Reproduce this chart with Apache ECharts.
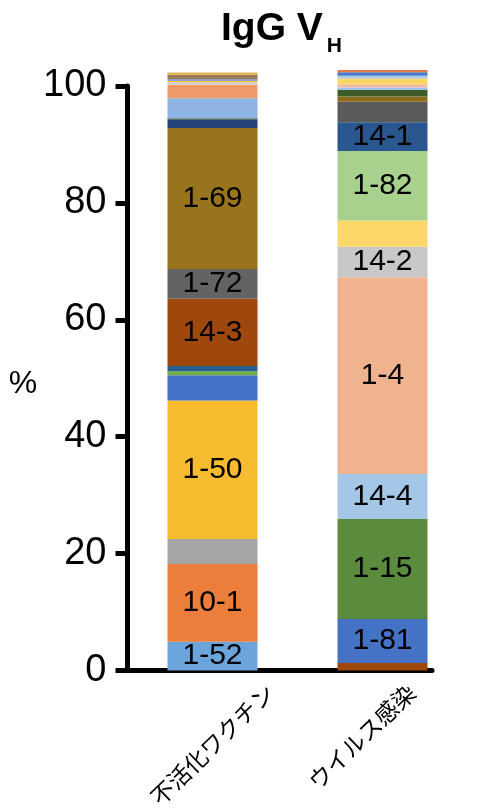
<!DOCTYPE html>
<html>
<head>
<meta charset="utf-8">
<script src="https://cdn.jsdelivr.net/npm/echarts@6/dist/echarts.min.js"></script>
<style>
  html, body { margin: 0; padding: 0; background: #ffffff; }
  #chart { width: 482px; height: 811px; }
</style>
</head>
<body>
<div id="chart"></div>
<script>
// Groups on the x axis
const categories = ['不活化ワクチン', 'ウイルス感染'];

// IgG VH gene usage (%), segments listed from the bottom of each bar to the top.
// An empty name marks a minor gene that carries no label.
const vaccineGenes  = ['1-52', '10-1', '', '1-50', '', '', '', '14-3', '1-72', '1-69', '', '', '', '', '', '', '', '', ''];
const vaccineValues = [4.9, 13.3, 4.3, 23.7, 4.3, 0.7, 0.9, 11.5, 5.1, 24.1, 1.5, 0.2, 3.4, 2.3, 0.5, 0.2, 0.25, 0.8, 0.35];

const infectionGenes  = ['', '1-81', '1-15', '14-4', '1-4', '14-2', '', '1-82', '14-1', '', '', '', '', '', '', '', '', ''];
const infectionValues = [1.3, 7.5, 17.1, 7.7, 33.7, 5.2, 4.5, 11.9, 4.9, 3.5, 0.9, 1.1, 0.45, 0.55, 1.0, 0.45, 0.6, 0.4];

// Y axis ticks
const yTicks = [0, 20, 40, 60, 80, 100];

// Segment colours, same order as the values above
const vaccineColors = [
  '#6ca4dc', '#ea7e3a', '#a5a5a5', '#f7bb2f', '#4472c4', '#70ad47', '#255e91',
  '#9e480e', '#636363', '#98741c', '#264478', '#43682b', '#8eb4e3', '#ee9a6a',
  '#d8cfc0', '#f5c33a', '#6f8fcf', '#9c7a55', '#e0b44a'
];
const infectionColors = [
  '#9e480e', '#4472c4', '#5b8b3d', '#a4c6e7', '#efb38f', '#c8c8c8', '#fdd76a',
  '#a9d18e', '#2a5790', '#5a5a5a', '#8c6d1a', '#3e5d2a', '#9dc3e6', '#f2b9a4',
  '#fdd766', '#a9c8e8', '#4a78c8', '#e07b4a'
];

const AXIS_W = 5;
const FONT = 'Liberation Sans, Arial, sans-serif';
const layerCount = Math.max(vaccineValues.length, infectionValues.length);

function segment(values, genes, colors, i) {
  if (i >= values.length) return '-';
  return {
    value: values[i],
    itemStyle: { color: colors[i] },
    label: { show: genes[i] !== '' }
  };
}

const series = [];
for (let i = 0; i < layerCount; i++) {
  series.push({
    type: 'bar',
    stack: 'usage',
    xAxisIndex: 0,
    yAxisIndex: 0,
    barWidth: 90,
    clip: false,
    silent: true,
    data: [
      segment(vaccineValues, vaccineGenes, vaccineColors, i),
      segment(infectionValues, infectionGenes, infectionColors, i)
    ],
    label: {
      position: 'inside',
      color: '#000000',
      fontFamily: FONT,
      fontSize: 30,
      formatter: (p) => (p.dataIndex === 0 ? vaccineGenes[i] : infectionGenes[i]) || ''
    }
  });
}

const chart = echarts.init(document.getElementById('chart'), null, { renderer: 'canvas' });

chart.setOption({
  animation: false,
  backgroundColor: '#ffffff',
  title: {
    left: 221,
    top: 18,
    padding: 0,
    text: '{a|IgG V}{b|H}',
    textStyle: {
      rich: {
        a: { fontFamily: FONT, fontSize: 39, fontWeight: 'bold', color: '#000', lineHeight: 39, padding: [0, 0, 8, 0], verticalAlign: 'bottom' },
        b: { fontFamily: FONT, fontSize: 21, fontWeight: 'bold', color: '#000', lineHeight: 21, padding: [0, 0, 0, 4], verticalAlign: 'bottom' }
      }
    }
  },
  grid: [
    // bars and y axis
    { left: 127.5, top: 86, width: 340, bottom: 140.5 },
    // category labels, set off to the right of each bar
    { left: 199.5, top: 86, width: 340, bottom: 140.5 },
    // baseline
    { left: 127.5, top: 86, width: 304.5, bottom: 140.5 }
  ],
  xAxis: [
    {
      gridIndex: 0, type: 'category', data: categories,
      axisLine: { show: false }, axisTick: { show: false }, axisLabel: { show: false }
    },
    {
      gridIndex: 1, type: 'category', data: categories,
      axisLine: { show: false }, axisTick: { show: false },
      axisLabel: {
        rotate: 44,
        margin: 20,
        interval: 0,
        align: 'right',
        verticalAlign: 'middle',
        color: '#000',
        fontFamily: 'Noto Sans CJK JP, sans-serif',
        fontSize: 23
      }
    },
    {
      gridIndex: 2, type: 'value', min: 0, max: 1,
      axisLine: { show: true, lineStyle: { color: '#000', width: AXIS_W } },
      axisTick: { show: false }, axisLabel: { show: false }, splitLine: { show: false }
    }
  ],
  yAxis: [
    {
      gridIndex: 0, type: 'value', min: 0, max: 100, interval: 20,
      name: '%',
      nameLocation: 'middle',
      nameRotate: 0,
      nameGap: 99,
      nameTextStyle: { fontFamily: FONT, fontSize: 32, color: '#000', align: 'center', verticalAlign: 'top', lineHeight: 12 },
      axisLine: { show: true, lineStyle: { color: '#000', width: AXIS_W } },
      axisTick: { show: true, length: 12, lineStyle: { color: '#000', width: AXIS_W } },
      axisLabel: {
        margin: 21,
        color: '#000',
        fontFamily: FONT,
        fontSize: 38,
        customValues: yTicks,
        formatter: (v) => String(v)
      },
      splitLine: { show: false }
    },
    { gridIndex: 1, type: 'value', show: false },
    { gridIndex: 2, type: 'value', show: false }
  ],
  series: series
});
</script>
</body>
</html>
